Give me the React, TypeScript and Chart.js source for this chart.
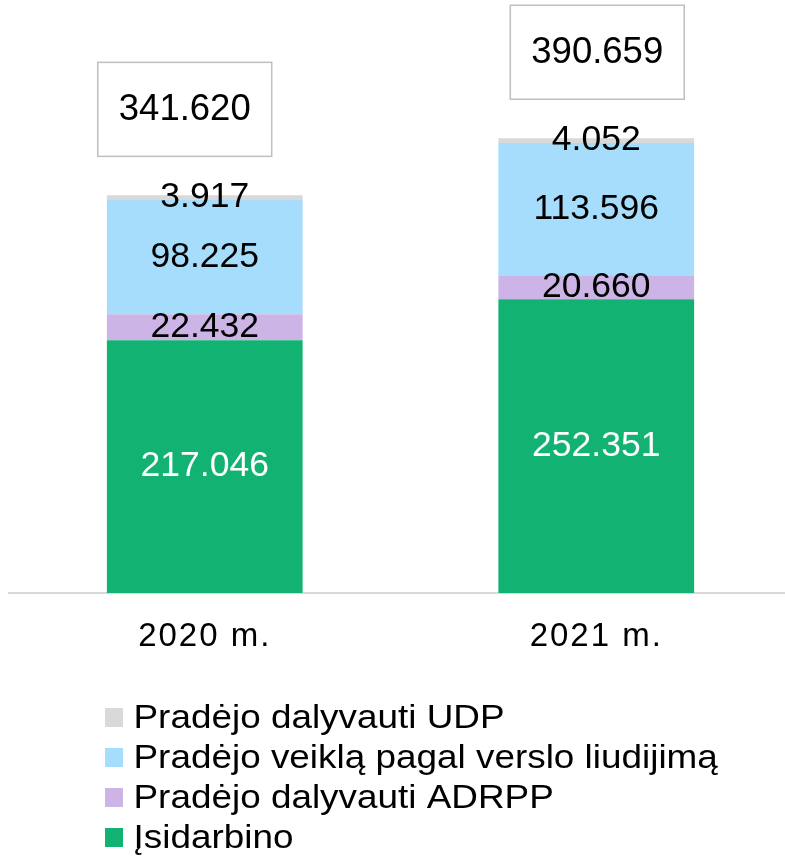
import React, { useEffect, useRef } from "react";
import { Chart, registerables } from "chart.js";

Chart.register(...registerables);

const categories = ["2020 m.", "2021 m."];
const seriesNames = [
  "Įsidarbino",
  "Pradėjo dalyvauti ADRPP",
  "Pradėjo veiklą pagal verslo liudijimą",
  "Pradėjo dalyvauti UDP",
];
const isidarbino = [217046, 252351];
const adrpp = [22432, 20660];
const verslo = [98225, 113596];
const udp = [3917, 4052];
const seriesValues = [isidarbino, adrpp, verslo, udp];

const colors = ["#12B273", "#CDB4E6", "#A6DDFC", "#D9D9D9"];
const labelColors = ["#FFFFFF", "#000000", "#000000", "#000000"];
const Y_MAX = 500000;
const TOTAL_BOX_DX = [-20, 1];

const FONT = '"Liberation Sans", Arial, sans-serif';

const fmt = (n: number) =>
  String(Math.round(n)).replace(/\B(?=(\d{3})+(?!\d))/g, ".");

const labelsPlugin = {
  id: "customLabels",
  beforeDraw(chart: any) {
    chart.ctx.letterSpacing = "2px";
  },
  afterDatasetsDraw(chart: any) {
    const ctx = chart.ctx as CanvasRenderingContext2D;
    ctx.save();
    (ctx as any).letterSpacing = "0px";
    ctx.textAlign = "center";
    ctx.textBaseline = "middle";
    chart.data.datasets.forEach((ds: any, i: number) => {
      const meta = chart.getDatasetMeta(i);
      meta.data.forEach((bar: any, j: number) => {
        const { x, y, base } = bar.getProps(["x", "y", "base"], true);
        ctx.font = `35.5px ${FONT}`;
        ctx.fillStyle = labelColors[i];
        ctx.fillText(fmt(ds.data[j]), x, (y + base) / 2);
      });
    });
    const last = chart.getDatasetMeta(chart.data.datasets.length - 1);
    categories.forEach((_, j) => {
      let total = 0;
      chart.data.datasets.forEach((ds: any) => (total += ds.data[j]));
      const bar = last.data[j];
      const { x, y } = bar.getProps(["x", "y"], true);
      const text = fmt(total);
      ctx.font = `36.5px ${FONT}`;
      const w = ctx.measureText(text).width + 42;
      const h = 94;
      const cx = x + TOTAL_BOX_DX[j];
      const bottom = y - 39;
      ctx.fillStyle = "#FFFFFF";
      ctx.fillRect(cx - w / 2, bottom - h, w, h);
      ctx.strokeStyle = "#BFBFBF";
      ctx.lineWidth = 1.5;
      ctx.strokeRect(cx - w / 2, bottom - h, w, h);
      ctx.fillStyle = "#000000";
      ctx.fillText(text, cx, bottom - h / 2 + 1);
    });
    ctx.restore();
  },
  afterDraw(chart: any) {
    const ctx = chart.ctx as CanvasRenderingContext2D;
    ctx.save();
    (ctx as any).letterSpacing = "0px";
    const n = chart.data.datasets.length;
    for (let r = 0; r < n; r++) {
      const di = n - 1 - r;
      const ds = chart.data.datasets[di];
      const by = 728 + r * 40;
      ctx.fillStyle = ds.backgroundColor;
      ctx.fillRect(105, by - 20, 18, 19);
      ctx.save();
      ctx.translate(133.5, by);
      ctx.scale(1.135, 1);
      ctx.font = `32.5px ${FONT}`;
      ctx.fillStyle = "#000000";
      ctx.textAlign = "left";
      ctx.textBaseline = "alphabetic";
      ctx.fillText(ds.label, 0, 0);
      ctx.restore();
    }
    ctx.restore();
  },
};

export default function App() {
  const ref = useRef<HTMLCanvasElement | null>(null);
  useEffect(() => {
    document.body.style.margin = "0";
    if (!ref.current) return;
    const chart = new Chart(ref.current, {
      type: "bar",
      data: {
        labels: categories,
        datasets: seriesNames.map((name, i) => ({
          label: name,
          data: seriesValues[i],
          backgroundColor: colors[i],
          borderWidth: 0,
          categoryPercentage: 1,
          barPercentage: 0.5,
        })),
      },
      options: {
        responsive: false,
        animation: false,
        devicePixelRatio: 1,
        layout: { padding: { left: 9, right: 0, top: 11, bottom: 177.4 } },
        plugins: {
          legend: { display: false },
          tooltip: { enabled: false },
        },
        scales: {
          x: {
            stacked: true,
            grid: {
              display: true,
              drawOnChartArea: false,
              drawTicks: false,
              color: "rgba(0,0,0,0)",
            },
            border: { display: true, color: "#D9D9D9", width: 2 },
            ticks: {
              color: "#000000",
              font: { family: FONT, size: 33 },
              padding: 24,
            },
          },
          y: { stacked: true, display: false, min: 0, max: Y_MAX },
        },
      },
      plugins: [labelsPlugin],
    } as any);
    return () => chart.destroy();
  }, []);
  return (
    <div style={{ width: 785, height: 858, overflow: "hidden", background: "#fff" }}>
      <canvas ref={ref} width={792} height={858} style={{ display: "block" }} />
    </div>
  );
}
